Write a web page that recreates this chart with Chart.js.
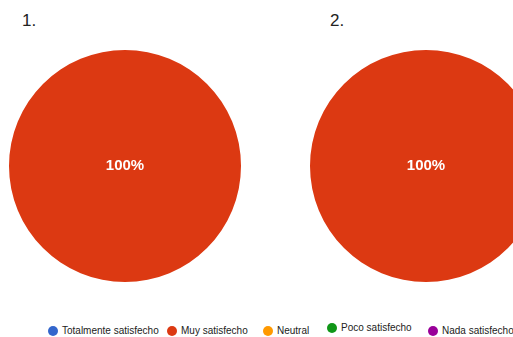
<!DOCTYPE html>
<html>
<head>
<meta charset="utf-8">
<script src="https://cdn.jsdelivr.net/npm/chart.js@4/dist/chart.umd.min.js"></script>
<style>
  html, body { margin: 0; padding: 0; background: #fff; }
  body { width: 513px; height: 337px; overflow: hidden; position: relative;
         font-family: "Liberation Sans", Arial, sans-serif; color: #222; }
  .num { position: absolute; top: 11px; font-size: 17px; }
  .pie { position: absolute; top: 50px; width: 232px; height: 232px; }
  #legend { position: absolute; top: 325px; left: 0; width: 513px; height: 14px; font-size: 10px; white-space: nowrap; }
  #legend .item { position: absolute; top: 0; display: flex; align-items: center; }
  #legend .dot { width: 10px; height: 10px; border-radius: 50%; margin-right: 4px; }
</style>
</head>
<body>
<div class="num" style="left:22px">1.</div>
<div class="num" style="left:330px">2.</div>
<div class="pie" style="left:9px"><canvas id="pie1"></canvas></div>
<div class="pie" style="left:310px"><canvas id="pie2"></canvas></div>
<div id="legend"></div>
<script>
  const categories = ["Totalmente satisfecho", "Muy satisfecho", "Neutral", "Poco satisfecho", "Nada satisfecho"];
  const colors = ["#3366cc", "#dc3912", "#ff9900", "#109618", "#990099"];
  const question1 = [0, 100, 0, 0, 0];
  const question2 = [0, 100, 0, 0, 0];

  // etiquetas de porcentaje dentro de cada porción
  const pctLabels = {
    id: "pctLabels",
    afterDatasetsDraw(chart) {
      const c = chart.ctx;
      const ds = chart.data.datasets[0];
      const total = ds.data.reduce((a, b) => a + b, 0);
      const meta = chart.getDatasetMeta(0);
      c.save();
      c.fillStyle = "#fff";
      c.font = "bold 15px 'Liberation Sans', Arial, sans-serif";
      c.textAlign = "center";
      c.textBaseline = "middle";
      meta.data.forEach((arc, i) => {
        const v = ds.data[i];
        if (!v) return;
        const pct = Math.round((v / total) * 100);
        let x, y;
        if (pct === 100) {
          x = arc.x; y = arc.y;
        } else {
          const p = arc.tooltipPosition();
          x = p.x; y = p.y;
        }
        c.fillText(pct + "%", x, y);
      });
      c.restore();
    },
  };

  function buildPie(id, values) {
    new Chart(document.getElementById(id), {
      type: "pie",
      data: {
        labels: categories,
        datasets: [{ data: values, backgroundColor: colors, borderWidth: 0 }],
      },
      options: {
        responsive: true,
        maintainAspectRatio: false,
        animation: false,
        layout: { padding: 0 },
        plugins: { legend: { display: false }, tooltip: { enabled: false } },
      },
      plugins: [pctLabels],
    });
  }

  buildPie("pie1", question1);
  buildPie("pie2", question2);

  // leyenda html (posición x de cada entrada y desplazamiento vertical)
  const legendLeft = [48, 167, 263, 327, 428];
  const legendTop = [0, 0, 0, -3, 0];
  const legend = document.getElementById("legend");
  categories.forEach((name, i) => {
    const item = document.createElement("div");
    item.className = "item";
    item.style.left = legendLeft[i] + "px";
    item.style.top = legendTop[i] + "px";
    item.innerHTML = `<span class="dot" style="background:${colors[i]}"></span>${name}`;
    legend.appendChild(item);
  });
</script>
</body>
</html>
